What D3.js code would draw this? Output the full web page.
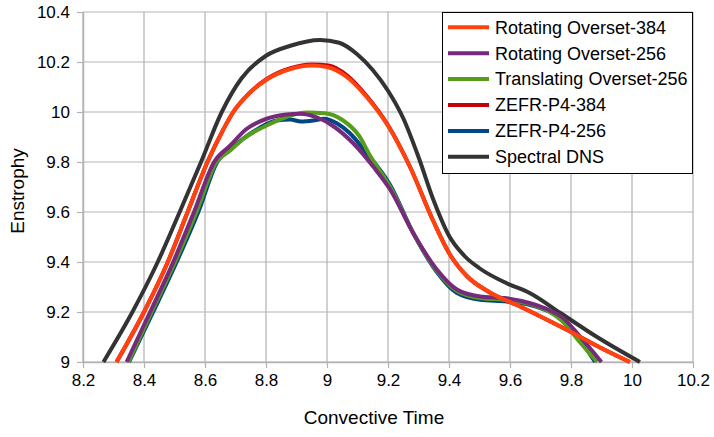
<!DOCTYPE html>
<html>
<head>
<meta charset="utf-8">
<script src="https://cdn.jsdelivr.net/npm/d3@7"></script>
<style>
  html, body { margin: 0; padding: 0; background: #fff; }
  svg { display: block; font-family: "Liberation Sans", Arial, sans-serif; }
</style>
</head>
<body>
<svg id="chart" width="714" height="437"></svg>
<script>
// ---------- data ----------
const seriesNames = ["Rotating Overset-384", "Rotating Overset-256", "Translating Overset-256", "ZEFR-P4-384", "ZEFR-P4-256", "Spectral DNS"];
const seriesColors = ["#ff420e", "#772a7c", "#579d1c", "#c5000b", "#004586", "#333333"];

const rotating384 = [[8.31,9.0],[8.4,9.2],[8.478,9.4],[8.543,9.6],[8.608,9.8],[8.66,9.93],[8.69,9.995],[8.745,10.075],[8.8,10.128],[8.88,10.172],[8.95,10.186],[9.0,10.18],[9.065,10.14],[9.13,10.06],[9.2,9.945],[9.272,9.781],[9.35,9.56],[9.403,9.43],[9.46,9.342],[9.534,9.278],[9.633,9.222],[9.731,9.163],[9.808,9.115],[9.895,9.058],[9.993,9.0]];
const rotating256 = [[8.343,9.0],[8.42,9.2],[8.496,9.4],[8.564,9.6],[8.63,9.8],[8.682,9.865],[8.736,9.932],[8.802,9.973],[8.867,9.99],[8.91,9.993],[8.966,9.979],[9.021,9.943],[9.086,9.875],[9.152,9.781],[9.207,9.69],[9.283,9.515],[9.36,9.37],[9.426,9.29],[9.502,9.262],[9.589,9.255],[9.666,9.235],[9.731,9.206],[9.77,9.18],[9.83,9.101],[9.9,9.0]];
const translating256 = [[8.349,9.0],[8.425,9.2],[8.502,9.4],[8.572,9.6],[8.638,9.8],[8.682,9.845],[8.726,9.893],[8.802,9.946],[8.867,9.98],[8.933,9.998],[8.993,9.995],[9.053,9.966],[9.105,9.905],[9.141,9.826],[9.207,9.701],[9.283,9.515],[9.36,9.365],[9.425,9.285],[9.502,9.256],[9.589,9.248],[9.666,9.232],[9.731,9.2],[9.77,9.165],[9.83,9.078],[9.886,9.0]];
const zefr384 = [[8.31,9.0],[8.4,9.2],[8.478,9.4],[8.543,9.6],[8.608,9.8],[8.66,9.93],[8.69,9.995],[8.745,10.075],[8.8,10.13],[8.88,10.175],[8.95,10.19],[9.005,10.186],[9.065,10.147],[9.13,10.064],[9.2,9.947],[9.272,9.781],[9.35,9.56],[9.403,9.43],[9.46,9.342],[9.534,9.278],[9.633,9.222],[9.731,9.163],[9.808,9.115],[9.895,9.058],[9.993,9.0]];
const zefr256 = [[8.351,9.0],[8.43,9.2],[8.507,9.4],[8.578,9.6],[8.64,9.8],[8.693,9.861],[8.758,9.921],[8.835,9.966],[8.879,9.97],[8.915,9.962],[8.955,9.966],[8.99,9.973],[9.032,9.955],[9.075,9.915],[9.13,9.835],[9.207,9.708],[9.283,9.515],[9.36,9.36],[9.425,9.277],[9.502,9.249],[9.589,9.242],[9.666,9.228],[9.731,9.2],[9.77,9.172],[9.83,9.088],[9.879,9.0]];
const spectralDNS = [[8.267,9.0],[8.362,9.2],[8.445,9.4],[8.517,9.6],[8.587,9.8],[8.655,10.0],[8.72,10.135],[8.8,10.225],[8.88,10.265],[8.977,10.288],[9.04,10.277],[9.1,10.23],[9.15,10.168],[9.2,10.085],[9.25,9.975],[9.3,9.82],[9.35,9.645],[9.4,9.505],[9.45,9.425],[9.5,9.375],[9.589,9.315],[9.666,9.275],[9.764,9.197],[9.884,9.101],[10.026,9.0]];

const seriesData = [rotating384, rotating256, translating256, zefr384, zefr256, spectralDNS];

const xTicks = [8.2, 8.4, 8.6, 8.8, 9, 9.2, 9.4, 9.6, 9.8, 10, 10.2];
const yTicks = [9, 9.2, 9.4, 9.6, 9.8, 10, 10.2, 10.4];
const xTitle = "Convective Time";
const yTitle = "Enstrophy";

// ---------- layout ----------
const svg = d3.select("#chart");
const plot = { left: 83, right: 693, top: 12, bottom: 362 };

const x = d3.scaleLinear().domain([8.2, 10.2]).range([plot.left, plot.right]);
const y = d3.scaleLinear().domain([9, 10.4]).range([plot.bottom, plot.top]);
const fmt = d => String(+d.toFixed(1));
const gridColor = "#b3b3b3";

// grid
const grid = svg.append("g");
grid.selectAll("line.v").data(xTicks).join("line")
  .attr("x1", d => x(d)).attr("x2", d => x(d))
  .attr("y1", plot.top).attr("y2", plot.bottom)
  .attr("stroke", gridColor).attr("stroke-width", 1.2);
grid.selectAll("line.h").data(yTicks).join("line")
  .attr("x1", plot.left).attr("x2", plot.right)
  .attr("y1", d => y(d)).attr("y2", d => y(d))
  .attr("stroke", gridColor).attr("stroke-width", 1.2);

// axes
const xAxis = d3.axisBottom(x).tickValues(xTicks).tickFormat(fmt).tickSize(6).tickSizeOuter(0).tickPadding(6);
const yAxis = d3.axisLeft(y).tickValues(yTicks).tickFormat(fmt).tickSize(6).tickSizeOuter(0).tickPadding(7);

const gx = svg.append("g").attr("transform", `translate(0,${plot.bottom})`).call(xAxis);
const gy = svg.append("g").attr("transform", `translate(${plot.left},0)`).call(yAxis);
[gx, gy].forEach(g => {
  g.select(".domain").attr("stroke", gridColor).attr("stroke-width", 1.5);
  g.selectAll(".tick line").attr("stroke", gridColor).attr("stroke-width", 1.2);
  g.selectAll(".tick text").attr("fill", "#000").attr("font-size", 17)
    .attr("font-family", "'Liberation Sans', Arial, sans-serif");
});
gy.selectAll(".tick text").attr("dy", "0.35em");

// titles
svg.append("text").attr("x", 374).attr("y", 424).attr("text-anchor", "middle")
  .attr("font-size", 19).attr("fill", "#000").text(xTitle);
svg.append("text").attr("transform", "translate(24,191) rotate(-90)").attr("text-anchor", "middle")
  .attr("font-size", 19).attr("fill", "#000").text(yTitle);

// lines (drawn reverse so first series on top)
const line = d3.line().x(d => x(d[0])).y(d => y(d[1])).curve(d3.curveMonotoneX);
const order = [5, 4, 3, 2, 1, 0];
const lines = svg.append("g");
order.forEach(i => {
  lines.append("path").datum(seriesData[i])
    .attr("d", line).attr("fill", "none")
    .attr("stroke", seriesColors[i]).attr("stroke-width", 4)
    .attr("stroke-linejoin", "round").attr("stroke-linecap", "butt");
});

// legend
const lg = svg.append("g");
lg.append("rect").attr("x", 442.5).attr("y", 12.5).attr("width", 250).attr("height", 161)
  .attr("fill", "#fff").attr("stroke", "#000").attr("stroke-width", 1);
seriesNames.forEach((name, i) => {
  const yy = 27.3 + i * 25.9;
  lg.append("line").attr("x1", 448).attr("x2", 489).attr("y1", yy).attr("y2", yy)
    .attr("stroke", seriesColors[i]).attr("stroke-width", 4);
  lg.append("text").attr("x", 495).attr("y", yy).attr("dy", "0.35em")
    .attr("font-size", 18).attr("fill", "#000").text(name);
});
</script>
</body>
</html>
